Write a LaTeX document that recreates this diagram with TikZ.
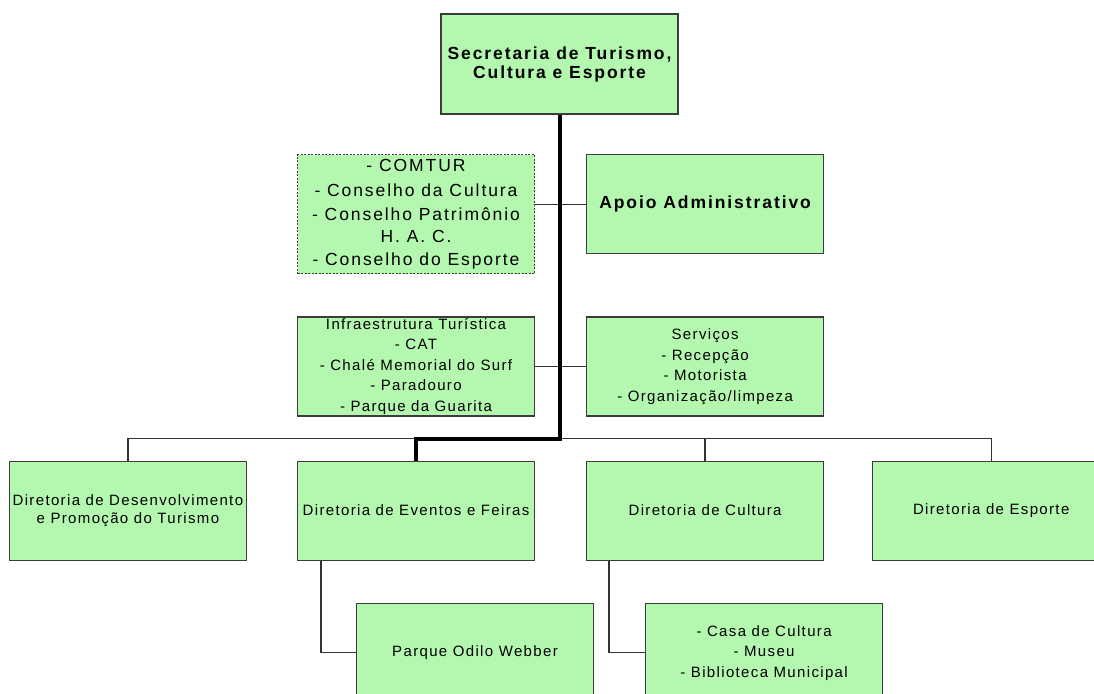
\documentclass[tikz,border=0pt]{standalone}
\usepackage{fontspec}
\setmainfont{Liberation Sans}
\newfontfamily\titlefont[LetterSpace=11]{Liberation Sans}
\newfontfamily\midfont[LetterSpace=11]{Liberation Sans}
\newfontfamily\smallfont[LetterSpace=9]{Liberation Sans}
\usepackage{tikz}
\usetikzlibrary{positioning,calc}
\definecolor{boxfill}{RGB}{180,248,176}
\definecolor{boxline}{RGB}{60,60,60}
\tikzstyle{bx} = [draw=boxline,fill=boxfill,line width=1.1pt,inner sep=0,
                  minimum width=237pt,minimum height=99pt,align=center]
\tikzstyle{bxd} = [bx,dashed,dash pattern=on 2pt off 1.5pt]
\tikzstyle{ln} = [draw=black!80,line width=1.4pt]
\tikzstyle{lnb} = [draw=black,line width=4pt]

\begin{document}
\begin{tikzpicture}[
    x=1pt,
    y=-1pt,
    node distance=42pt,
    big/.style={font=\titlefont\bfseries\fontsize{17.5}{19}\selectfont},
    mid/.style={font=\midfont\fontsize{17.5}{21.5}\selectfont},
    small/.style={font=\smallfont\fontsize{15}{20.5}\selectfont}
]
   \useasboundingbox (0,0) rectangle (1094,693);
   \clip (0,0) rectangle (1094,693);

   \node[bx,big,minimum height=100pt] (sec) at (559.5,64)
        {Secretaria de Turismo,\\Cultura e Esporte};

   \node[bx,small]    (infra) at (416,366.5)
        {Infraestrutura Turística\\- CAT\\- Chalé Memorial do Surf\\- Paradouro\\- Parque da Guarita};
   \node[bx,small]    (serv) [right=51pt of infra]
        {Serviços\\- Recepção\\- Motorista\\- Organização/limpeza};

   \node[bxd,mid,minimum height=119pt] (cons) [above=of infra]
        {- COMTUR\\[3pt]- Conselho da Cultura\\[3pt]- Conselho Patrimônio\\H. A. C.\\[2pt]- Conselho do Esporte};
   \node[bx,big]      (apoio) [right=51pt of cons.north east,anchor=north west]
        {Apoio Administrativo};

   \node[bx,small]    (dir2) [below=44pt of infra] {Diretoria de Eventos e Feiras};
   \node[bx,small]    (dir1) [left=50pt of dir2]
        {Diretoria de Desenvolvimento\\[-2.5pt]e Promoção do Turismo};
   \node[bx,small]    (dir3) [right=51pt of dir2] {Diretoria de Cultura};
   \node[bx,small]    (dir4) [right=48pt of dir3] {Diretoria de Esporte};

   \node[bx,small]    (parque) [below=of dir2.south west,anchor=north west,xshift=59pt]
        {Parque Odilo Webber};
   \node[bx,small]    (casa) [below=of dir3.south west,anchor=north west,xshift=59pt]
        {- Casa de Cultura\\- Museu\\- Biblioteca Municipal};

   \coordinate (bus) at ($(sec.south)+(0,324)$);

   % thin connectors
   \path[ln]
     (apoio.west) -- (apoio.west -| cons.east)
     (infra.east) -- (serv.west)
     (dir1.north) |- (bus) -| (dir4.north)
     (dir3.north) -- (dir3.north |- bus)
     (parque.west) -| ([xshift=24pt]dir2.south west)
     (casa.west) -| ([xshift=23pt]dir3.south west);

   % main line
   \draw[lnb] (sec.south) -- (bus) -| (dir2.north);

\end{tikzpicture}
\end{document}
